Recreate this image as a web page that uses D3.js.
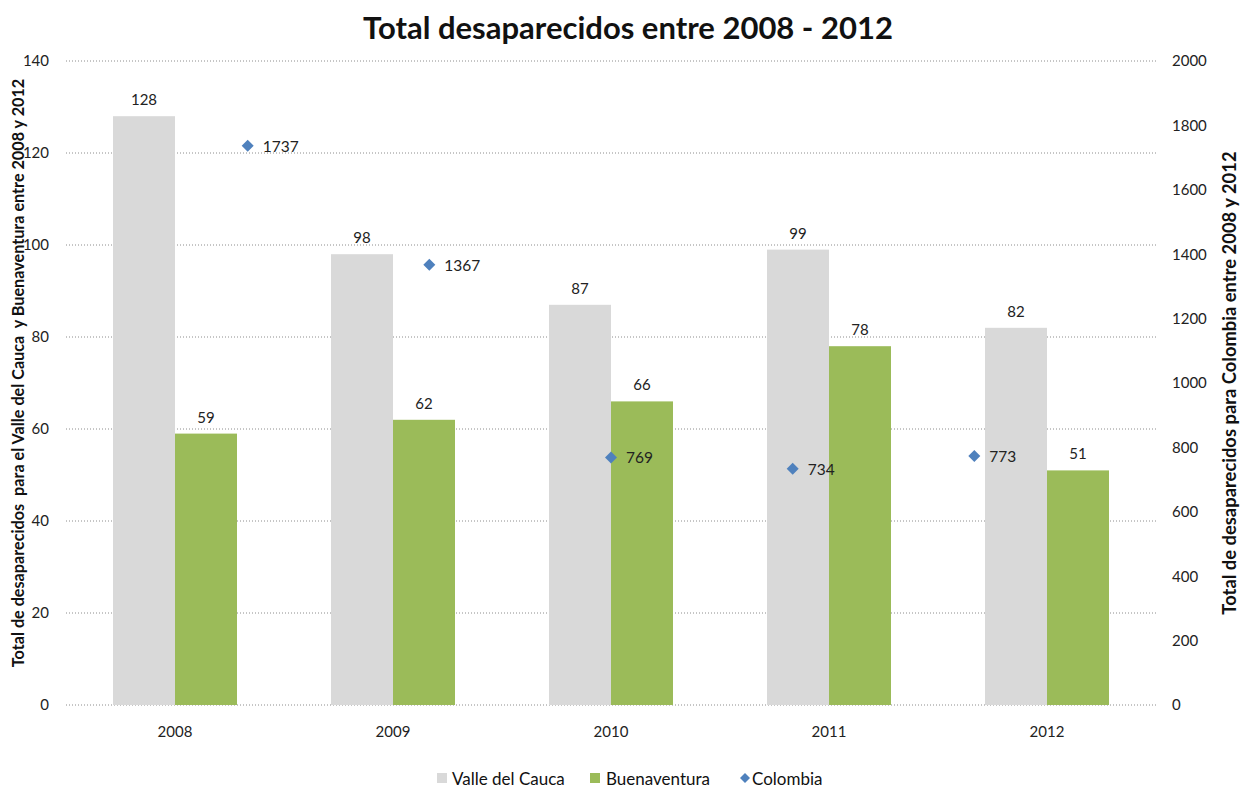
<!DOCTYPE html>
<html><head><meta charset="utf-8">
<script src="https://cdn.jsdelivr.net/npm/d3@7"></script>
<style>body{margin:0;background:#fff}svg{font-family:Lato,"Open Sans",sans-serif}</style>
</head><body><svg id="c" width="1241" height="789"></svg>
<script>
const years = ["2008","2009","2010","2011","2012"];
const valle = [128,98,87,99,82];
const buenaventura = [59,62,66,78,51];
const colombia = [1737,1367,769,734,773];
const leftTicks = [0,20,40,60,80,100,120,140];
const rightTicks = [0,200,400,600,800,1000,1200,1400,1600,1800,2000];
const seriesNames = ["Valle del Cauca","Buenaventura","Colombia"];
const colors = ["#D9D9D9","#9BBB59","#4F81BD"];

const svg = d3.select("#c");
const L=66, R=1156, T=61, B=705;
const x = d3.scaleBand().domain(years).range([L,R]).paddingInner(0).paddingOuter(0);
const xp = d3.scalePoint().domain(years).range([L,R]).padding(1);
const y = d3.scaleLinear().domain([0,140]).range([B,T]);
const y2 = d3.scaleLinear().domain([0,2000]).range([B,T]);
const bw = 62;
const FS = 15;

// grid
svg.append("g").selectAll("line").data(leftTicks).join("line")
  .attr("x1",L).attr("x2",R).attr("y1",d=>y(d)).attr("y2",d=>y(d))
  .attr("stroke","#8c8c8c").attr("stroke-width",1).attr("stroke-dasharray","1,2");

// axes
const ga = svg.append("g").attr("transform",`translate(${L},0)`)
  .call(d3.axisLeft(y).tickValues(leftTicks).tickSize(0).tickPadding(17));
ga.select(".domain").remove();
ga.selectAll("text").attr("font-size",FS).attr("fill","#222").attr("font-family","Lato,sans-serif");
const gr = svg.append("g").attr("transform",`translate(${R},0)`)
  .call(d3.axisRight(y2).tickValues(rightTicks).tickFormat(d3.format("d")).tickSize(0).tickPadding(16));
gr.select(".domain").remove();
gr.selectAll("text").attr("font-size",FS).attr("fill","#222").attr("font-family","Lato,sans-serif");
const gb = svg.append("g").attr("transform",`translate(0,${B})`)
  .call(d3.axisBottom(x).tickSize(0).tickPadding(21));
gb.select(".domain").remove();
gb.selectAll("text").attr("font-size",FS).attr("fill","#222").attr("font-family","Lato,sans-serif");

// bars
const cx = d => x(d)+x.bandwidth()/2;
svg.append("g").selectAll("rect").data(years).join("rect")
  .attr("x",(d)=>cx(d)-bw).attr("width",bw)
  .attr("y",(d,i)=>y(valle[i])).attr("height",(d,i)=>B-y(valle[i])).attr("fill",colors[0]);
svg.append("g").selectAll("rect").data(years).join("rect")
  .attr("x",(d)=>cx(d)).attr("width",bw)
  .attr("y",(d,i)=>y(buenaventura[i])).attr("height",(d,i)=>B-y(buenaventura[i])).attr("fill",colors[1]);

// bar labels
svg.append("g").selectAll("text").data(years).join("text")
  .attr("x",d=>cx(d)-bw/2).attr("y",(d,i)=>y(valle[i])-11)
  .attr("text-anchor","middle").attr("font-size",FS).attr("fill","#222").text((d,i)=>valle[i]);
svg.append("g").selectAll("text").data(years).join("text")
  .attr("x",d=>cx(d)+bw/2).attr("y",(d,i)=>y(buenaventura[i])-11)
  .attr("text-anchor","middle").attr("font-size",FS).attr("fill","#222").text((d,i)=>buenaventura[i]);

// Colombia markers (square rotated 45°)
const sq = d3.symbol().type(d3.symbolSquare).size(72);
svg.append("g").selectAll("path").data(years).join("path")
  .attr("d",sq).attr("transform",(d,i)=>`translate(${xp(d)},${y2(colombia[i])}) rotate(45)`)
  .attr("fill",colors[2]);
svg.append("g").selectAll("text").data(years).join("text")
  .attr("x",d=>xp(d)+15).attr("y",(d,i)=>y2(colombia[i])+6)
  .attr("font-size",FS+0.5).attr("fill","#222").text((d,i)=>colombia[i]);

// title
svg.append("text").attr("x",628).attr("y",39).attr("text-anchor","middle")
  .attr("font-size",31).attr("font-weight","bold").attr("fill","#111")
  .text("Total desaparecidos entre 2008 - 2012");
// axis titles
svg.append("text").attr("transform",`translate(24,373) rotate(-90)`).attr("text-anchor","middle")
  .attr("font-size",16.2).attr("font-weight","bold").attr("fill","#111")
  .style("white-space","pre")
  .text("Total de desaparecidos  para el Valle del Cauca  y Buenaventura entre 2008 y 2012");
svg.append("text").attr("transform",`translate(1236,383) rotate(-90)`).attr("text-anchor","middle")
  .attr("font-size",18.4).attr("font-weight","bold").attr("fill","#111")
  .text("Total de desaparecidos para Colombia entre 2008 y 2012");

// legend
const leg = [{x:437,tx:452},{x:590,tx:606},{x:742,tx:752}];
seriesNames.forEach((n,i)=>{
  const g = svg.append("g");
  if(i<2) g.append("rect").attr("x",leg[i].x).attr("y",773).attr("width",10).attr("height",10).attr("fill",colors[i]);
  else g.append("path").attr("d",d3.symbol().type(d3.symbolSquare).size(50)).attr("transform",`translate(${leg[i].x+3},778) rotate(45)`).attr("fill",colors[i]);
  g.append("text").attr("x",leg[i].tx).attr("y",785).attr("font-size",17).attr("fill","#111").text(n);
});
</script></body></html>
